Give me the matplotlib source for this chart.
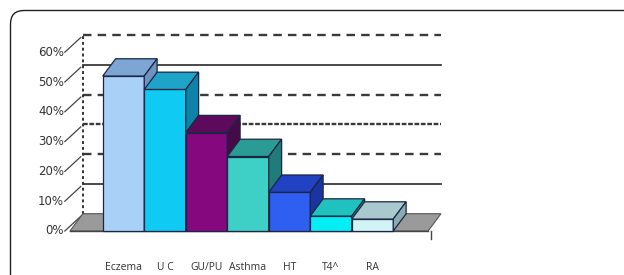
import matplotlib
matplotlib.use("Agg")
import matplotlib.pyplot as plt
from matplotlib.patches import Polygon, PathPatch
from matplotlib.path import Path

# ---- data ----
categories = ["Eczema", "U C", "GU/PU", "Asthma", "HT", "T4^", "RA"]
values = [52, 47.5, 33, 25, 13, 5, 4]
tick_values = [0, 10, 20, 30, 40, 50, 60]
tick_labels = ["0%", "10%", "20%", "30%", "40%", "50%", "60%"]

front_colors = ["#a9d1f7", "#0fcaf2", "#86087f", "#3ecfc6", "#2f5ff0", "#05eef5", "#d2f3f6"]
top_colors = ["#7ea6d4", "#1ea3c9", "#5d0a5c", "#2b9b96", "#2142c2", "#20c2c0", "#a9c9cc"]
side_colors = ["#6d93c0", "#0f82a8", "#470a48", "#1f7c79", "#1a35a2", "#17a2a2", "#8aabb0"]

# ---- geometry (pixel-matched axes) ----
W, H = 624, 275
fig = plt.figure(figsize=(W / 100, H / 100), dpi=100)
ax = fig.add_axes([0, 0, 1, 1])
px_x0, step = 123.5, 41.5          # pixel center of first bar, pixels per category
px_y0, per = 231.0, 2.98           # pixel y of 0 %, pixels per percent
ax.set_xlim(-px_x0 / step, (W - px_x0) / step)
ax.set_ylim((px_y0 - H) / per, px_y0 / per)
ax.axis("off")

dx, dy = 0.31, 5.8                 # 3-D depth offset in data units
edge = "#1c2544"
n = len(categories)
xs = list(range(n))

# frame (rounded top-left corner)
def f(x, y):
    return (x / W, 1 - y / H)
frame = Path([f(10.5, H + 5), f(10.5, 24), f(10.5, 10.5), f(24, 10.5), f(W + 5, 10.5)],
             [Path.MOVETO, Path.LINETO, Path.CURVE3, Path.CURVE3, Path.LINETO])
fig.patches.append(PathPatch(frame, transform=fig.transFigure, fill=False,
                             ec="#222222", lw=1.0))

# floor
fl, fr = -1.29, n + 0.34
ax.add_patch(Polygon([(fl, 0), (fr, 0), (fr + dx, dy), (fl + dx, dy)], closed=True,
                     fc="#9a9a9a", ec="#555555", lw=0.8, zorder=1))
ax.plot([fl, fr], [0, 0], color="#444444", lw=1.0, zorder=1)
ax.plot([fr + 0.07, fr + 0.07], [0, -2.6], color="#444444", lw=1.0, zorder=1)

# back wall gridlines
gx0, gx1 = fl + dx, fr + dx
dash = (0, (3.6, 2.6))
styles = {10: "-", 20: dash, 30: (0, (2.0, 0.7)), 40: dash, 50: "-", 60: dash}
for t in tick_values[1:]:
    ax.plot([gx0, gx1], [t + dy, t + dy], color="#3a3a3a",
            lw=1.7 if styles[t] != "-" else 1.3, ls=styles[t], zorder=0.5)
ax.plot([gx0, gx0], [dy, 60 + dy], color="#333333", lw=1.4, ls=(0, (1.5, 1.5)), zorder=0.6)

# y tick labels with leaders
lab_x = (64 - px_x0) / step
for t, lab in zip(tick_values, tick_labels):
    ax.text(lab_x, t, lab, ha="right", va="center", fontsize=8.5,
            color="#333333", family="DejaVu Sans")
    ax.plot([lab_x + 0.02, gx0 - 0.05], [t, t + dy * 0.85], color="#444444", lw=0.9, zorder=0.6)

# bars: front via ax.bar, top & side faces as polygons from the same values
for i, (x, v) in enumerate(zip(xs, values)):
    z = 2 + i
    ax.bar(x, v, width=1.0, color=front_colors[i], edgecolor=edge, lw=0.9, zorder=z)
    l, r = x - 0.5, x + 0.5
    ax.add_patch(Polygon([(l, v), (r, v), (r + dx, v + dy), (l + dx, v + dy)], closed=True,
                         fc=top_colors[i], ec=edge, lw=0.9, zorder=z))
    ax.add_patch(Polygon([(r, 0), (r, v), (r + dx, v + dy), (r + dx, dy)], closed=True,
                         fc=side_colors[i], ec=edge, lw=0.9, zorder=z))

# category labels
for x, c in zip(xs, categories):
    ax.text(x, (px_y0 - 268) / per, c, ha="center", va="center", fontsize=7.5,
            color="#333333", family="Open Sans")

fig.savefig("out.png", dpi=100)
